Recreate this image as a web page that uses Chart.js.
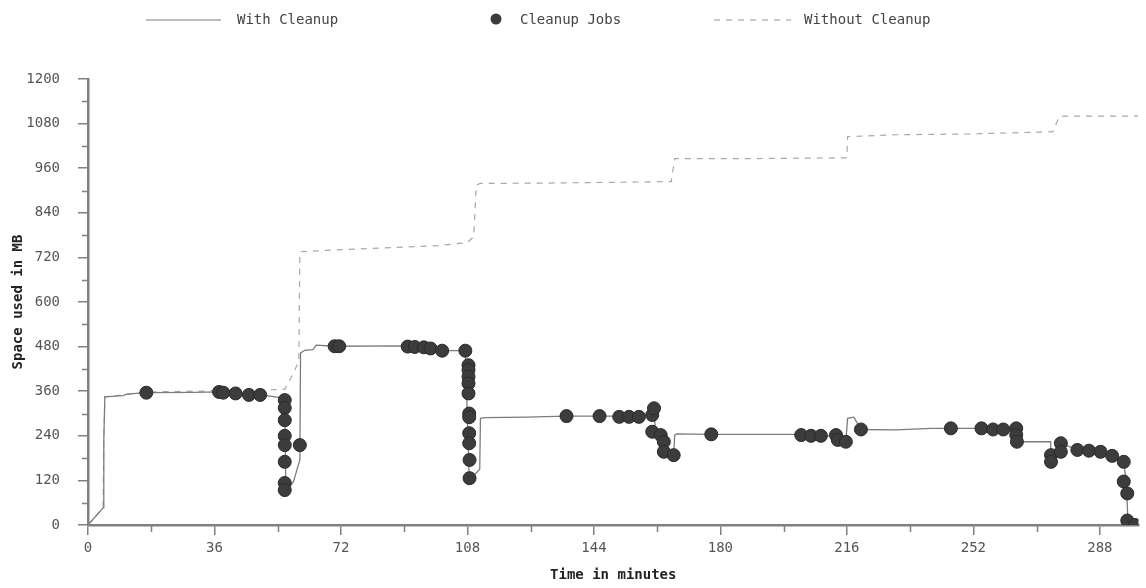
<!DOCTYPE html>
<html>
<head>
<meta charset="utf-8">
<script src="https://cdn.jsdelivr.net/npm/chart.js@4.4.0/dist/chart.umd.min.js"></script>
<style>
  html, body { margin: 0; padding: 0; background: #fff; overflow: hidden; }
  #wrap { width: 1146px; height: 588px; }
</style>
</head>
<body>
<div id="wrap"><canvas id="usageChart" width="1146" height="588"></canvas></div>
<script>
// time in minutes / space in MB
const withCleanupTime = [0, 4.3, 4.5, 4.8, 10, 11, 16.6, 30, 37.3, 45, 49, 53.3, 56, 56.3, 57.5, 58.5, 60.3, 60.5, 61.7, 64,
  65, 70, 90, 97, 100.8, 107.4, 108.5, 110.5, 111.5, 111.7, 113, 125, 136, 157, 160.6, 161.1, 161.5, 163, 164, 164.2,
  166.7, 167, 167.5, 177, 203, 208.6, 212.9, 213.4, 215.7, 216.2, 218, 219.5, 220, 230, 240, 264, 264.3, 274, 274.1, 276.9,
  281.6, 284.9, 288.2, 291.5, 294.8, 295.5, 296, 298, 299];
const withCleanupMB = [0, 46, 230, 345, 348, 352, 356, 357, 358, 354, 350, 345, 340, 96, 105, 117, 175, 463, 470, 472,
  484, 481, 482, 478, 469, 469, 126, 140, 150, 287, 289, 290, 293, 293, 296, 314, 251, 242, 224, 197,
  188, 242, 245, 244, 244, 240, 240, 229, 224, 287, 290, 265, 257, 256, 260, 260, 224, 224, 170, 220,
  202, 200, 197, 186, 170, 117, 12, 0, 0];

const jobTime = [16.6, 37.3, 38.5, 42, 45.8, 49,
  56, 56, 56, 56, 56, 56, 56, 56, 60.3,
  70.2, 71.5, 91, 93, 95.6, 97.5, 100.8,
  107.4, 108.3, 108.3, 108.3, 108.3, 108.3, 108.5, 108.5, 108.5, 108.5, 108.6, 108.6,
  136.2, 145.6, 151.2, 154, 156.8, 160.6, 161.1, 160.6, 163, 163.9, 163.9, 166.7, 177.4,
  203, 205.8, 208.6, 212.9, 213.4, 215.7, 220, 245.6,
  254.3, 257.6, 260.5, 264.2, 264.2, 264.4,
  274.1, 274.1, 276.9, 276.9, 281.6, 284.9, 288.2, 291.5, 294.8, 294.8, 295.8, 295.8, 298];
const jobMB = [356, 358, 356, 354, 350, 350,
  336, 315, 282, 240, 215, 170, 113, 94, 215,
  481, 481, 480, 479, 478, 475, 469,
  469, 430, 417, 399, 381, 354, 300, 290, 247, 220, 175, 126,
  293, 293, 291, 291, 291, 296, 314, 251, 242, 224, 197, 188, 244,
  242, 240, 240, 242, 229, 224, 257, 260,
  260, 257, 257, 260, 242, 224,
  188, 170, 220, 197, 202, 200, 197, 186, 170, 117, 85, 12, 0];

const withoutCleanupTime = [0, 4.3, 4.5, 4.8, 10, 16, 30, 45, 56, 58, 60, 60.3, 70, 90, 100, 108, 109.8, 110.5, 111.7, 130,
  150, 166, 167, 190, 216, 216.2, 230, 250, 274.6, 276.5, 299];
const withoutCleanupMB = [0, 46, 230, 345, 350, 358, 360, 362, 365, 400, 440, 735, 740, 748, 752, 760, 776, 915, 919, 920,
  922, 924, 986, 986, 988, 1045, 1050, 1052, 1058, 1100, 1100];

const xTickValues = [0, 36, 72, 108, 144, 180, 216, 252, 288];
const xMinorTicks = [18, 54, 90, 126, 162, 198, 234, 270];
const yTickValues = [0, 120, 240, 360, 480, 600, 720, 840, 960, 1080, 1200];
const yMinorTicks = [60, 180, 300, 420, 540, 660, 780, 900, 1020, 1140];

const monoFont = '"DejaVu Sans Mono", "Liberation Mono", monospace';
const axisGray = '#808080';

function toPoints(xs, ys) {
  return xs.map((x, i) => ({ x: x, y: ys[i] }));
}

// short unlabeled ticks between the labeled ones
const minorTicks = {
  id: 'minorTicks',
  afterDraw(chart) {
    const { ctx, chartArea, scales } = chart;
    ctx.save();
    ctx.strokeStyle = axisGray;
    ctx.lineWidth = 1.5;
    xMinorTicks.forEach(v => {
      const px = Math.round(scales.x.getPixelForValue(v)) + 0.5;
      ctx.beginPath();
      ctx.moveTo(px, chartArea.bottom);
      ctx.lineTo(px, chartArea.bottom + 7);
      ctx.stroke();
    });
    yMinorTicks.forEach(v => {
      const py = Math.round(scales.y.getPixelForValue(v)) + 0.5;
      ctx.beginPath();
      ctx.moveTo(chartArea.left - 6, py);
      ctx.lineTo(chartArea.left, py);
      ctx.stroke();
    });
    ctx.restore();
  }
};

// legend row at the top, laid out like the original
const legendRow = {
  id: 'legendRow',
  afterDraw(chart) {
    const ctx = chart.ctx;
    const ds = chart.data.datasets;
    const y = 20;
    ctx.save();
    ctx.font = '14px ' + monoFont;
    ctx.fillStyle = '#444';
    ctx.textBaseline = 'middle';

    ctx.strokeStyle = ds[1].borderColor;
    ctx.lineWidth = 1.2;
    ctx.beginPath(); ctx.moveTo(146, y); ctx.lineTo(221, y); ctx.stroke();
    ctx.fillText(ds[1].label, 237, y);

    ctx.fillStyle = ds[0].backgroundColor;
    ctx.beginPath(); ctx.arc(496, y - 1, 5.5, 0, Math.PI * 2); ctx.fill();
    ctx.fillStyle = '#444';
    ctx.fillText(ds[0].label, 520, y);

    ctx.strokeStyle = ds[2].borderColor;
    ctx.setLineDash(ds[2].borderDash);
    ctx.beginPath(); ctx.moveTo(714, y); ctx.lineTo(791, y); ctx.stroke();
    ctx.setLineDash([]);
    ctx.fillText(ds[2].label, 804, y);
    ctx.restore();
  }
};

new Chart(document.getElementById('usageChart'), {
  type: 'scatter',
  data: {
    datasets: [
      {
        label: 'Cleanup Jobs',
        data: toPoints(jobTime, jobMB),
        backgroundColor: '#3c3c3c',
        borderColor: '#2a2a2a',
        borderWidth: 1,
        pointRadius: 6.5,
        order: 0
      },
      {
        label: 'With Cleanup',
        type: 'line',
        data: toPoints(withCleanupTime, withCleanupMB),
        borderColor: '#7c7c7c',
        borderWidth: 1.3,
        pointRadius: 0,
        fill: false,
        tension: 0,
        order: 1
      },
      {
        label: 'Without Cleanup',
        type: 'line',
        data: toPoints(withoutCleanupTime, withoutCleanupMB),
        borderColor: '#a8a8a8',
        borderWidth: 1.2,
        borderDash: [6, 6],
        pointRadius: 0,
        fill: false,
        tension: 0,
        order: 2
      }
    ]
  },
  options: {
    responsive: false,
    animation: false,
    layout: { padding: { top: 79, right: 0, bottom: 0, left: 0 } },
    plugins: {
      legend: { display: false },
      tooltip: { enabled: false }
    },
    scales: {
      x: {
        type: 'linear',
        min: 0,
        max: 299,
        afterBuildTicks: s => { s.ticks = xTickValues.map(v => ({ value: v })); },
        afterFit: s => { s.height = 63; },
        border: { color: axisGray, width: 2.5 },
        grid: { drawOnChartArea: false, tickLength: 10, color: axisGray, lineWidth: 1.5 },
        ticks: {
          font: { family: monoFont, size: 14 }, color: '#555', padding: 5, maxRotation: 0, autoSkip: false,
          callback: v => String(v)
        },
        title: {
          display: true,
          text: 'Time in minutes',
          color: '#222',
          font: { family: monoFont, size: 14, weight: 'bold' },
          padding: { top: 0, bottom: 4 }
        }
      },
      y: {
        min: 0,
        max: 1200,
        afterBuildTicks: s => { s.ticks = yTickValues.map(v => ({ value: v })); },
        afterFit: s => { s.width = 88; },
        border: { color: axisGray, width: 2.5 },
        grid: { drawOnChartArea: false, tickLength: 10, color: axisGray, lineWidth: 1.5 },
        ticks: {
          font: { family: monoFont, size: 14 }, color: '#555', padding: 18,
          callback: v => String(v)
        },
        title: {
          display: true,
          text: 'Space used in MB',
          color: '#222',
          font: { family: monoFont, size: 14, weight: 'bold' },
          padding: { top: 10, bottom: 0 }
        }
      }
    }
  },
  plugins: [minorTicks, legendRow]
});
</script>
</body>
</html>
